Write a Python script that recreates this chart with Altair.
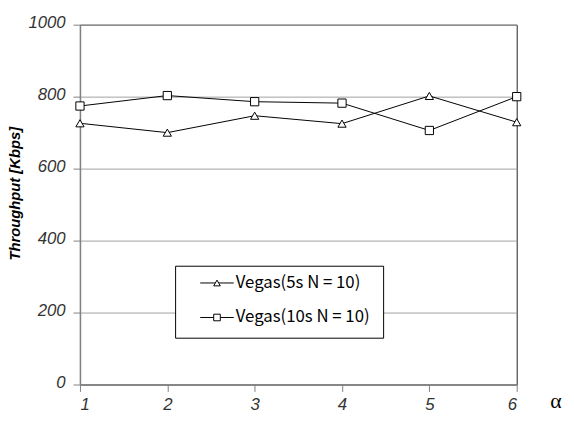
import altair as alt
import pandas as pd

# ---- data ----
alphas = [1, 2, 3, 4, 5, 6]
series_names = ["Vegas(5s N = 10)", "Vegas(10s N = 10)"]
vegas_5s = [726, 700, 747, 725, 802, 729]
vegas_10s = [774, 803, 786, 782, 706, 800]
y_ticks = [0, 200, 400, 600, 800, 1000]

rows = []
for a, v in zip(alphas, vegas_5s):
    rows.append({"alpha": a, "thr": v, "series": series_names[0]})
for a, v in zip(alphas, vegas_10s):
    rows.append({"alpha": a, "thr": v, "series": series_names[1]})
df = pd.DataFrame(rows)

legend_df = pd.DataFrame({"series": series_names, "row": [0, 1]})

TICKFONT = "Liberation Sans, Arial, sans-serif"
LEGFONT = "Noto Sans CJK KR, Liberation Sans, sans-serif"

x_enc = alt.X(
    "alpha:Q",
    scale=alt.Scale(domain=[1, 6], nice=False, zero=False),
    title=None,
    axis=alt.Axis(
        values=alphas, format="d", grid=False, tickSize=7, tickColor="#808080",
        domainColor="#808080", domainWidth=1.5, labelFont=TICKFONT, labelFontStyle="italic",
        labelFontSize=17, labelColor="#333333", labelPadding=5, labelBaseline="top",
    ),
)

y_scale = alt.Scale(domain=[0, 1000], nice=False, zero=True)

y_main = alt.Y(
    "thr:Q",
    scale=y_scale,
    axis=alt.Axis(
        values=y_ticks, format="d", grid=True, gridColor="#a0a0a0", gridWidth=1,
        tickSize=7, tickColor="#808080", domainColor="#808080", domainWidth=1.5,
        labelFont=TICKFONT, labelFontStyle="italic", labelFontSize=17, labelColor="#333333",
        labelPadding=8, labelOffset=-2,
        title="Throughput [Kbps]", titleFont="Liberation Sans", titleFontWeight="bold",
        titleFontStyle="italic", titleFontSize=15, titleColor="black",
        titleX=-66, titleY=171, titleAngle=270, titleAlign="center", titleBaseline="middle",
    ),
)
y_noaxis = alt.Y("thr:Q", scale=y_scale, axis=None)

shape_scale = alt.Scale(domain=series_names, range=["triangle-up", "square"])

base = alt.Chart(df)

lines = base.mark_line(color="black", strokeWidth=1).encode(
    x=x_enc, y=y_main, detail="series:N"
)
points = base.mark_point(filled=True, fill="white", stroke="black", strokeWidth=1, size=70, opacity=1).encode(
    x=alt.X("alpha:Q", scale=alt.Scale(domain=[1, 6], nice=False, zero=False)),
    y=y_noaxis,
    shape=alt.Shape("series:N", scale=shape_scale, legend=None),
)

# ---- manual legend ----
leg_y = alt.Y("row:Q", scale=alt.Scale(domain=[0, 1], range=[262, 297]), axis=None)

box = alt.Chart(alt.Data(values=[{"k": 1}])).mark_rect(
    fill="white", stroke="black", strokeWidth=1
).encode(
    x=alt.value(97), x2=alt.value(308), y=alt.value(245), y2=alt.value(318)
)
leg_rules = alt.Chart(legend_df).mark_rule(color="black", strokeWidth=1).encode(
    x=alt.value(122), x2=alt.value(156), y=leg_y
)
leg_points = alt.Chart(legend_df).mark_point(
    filled=True, fill="white", stroke="black", strokeWidth=1, size=45, opacity=1
).encode(
    x=alt.value(139), y=leg_y,
    shape=alt.Shape("series:N", scale=shape_scale, legend=None),
)
leg_text = alt.Chart(legend_df).mark_text(
    align="left", baseline="middle", font=LEGFONT, fontSize=17, color="black"
).encode(
    x=alt.value(158), y=leg_y, text="series:N"
)

alpha_label = alt.Chart(alt.Data(values=[{"t": "α"}])).mark_text(
    align="left", baseline="alphabetic", font="Liberation Serif, DejaVu Serif, serif",
    fontSize=22, color="black"
).encode(
    x=alt.value(477), y=alt.value(389), text="t:N"
)

chart = alt.layer(
    lines, points, box, leg_rules, leg_points, leg_text, alpha_label
).resolve_scale(
    y="independent"
).properties(
    width=443, height=365,
    autosize=alt.AutoSizeParams(type="none"),
    padding={"left": 73, "top": 14, "right": 50, "bottom": 29},
).configure_view(
    stroke="#222222", strokeWidth=1
)

chart.save("out.html", embed_options={"renderer": "svg", "actions": False})
